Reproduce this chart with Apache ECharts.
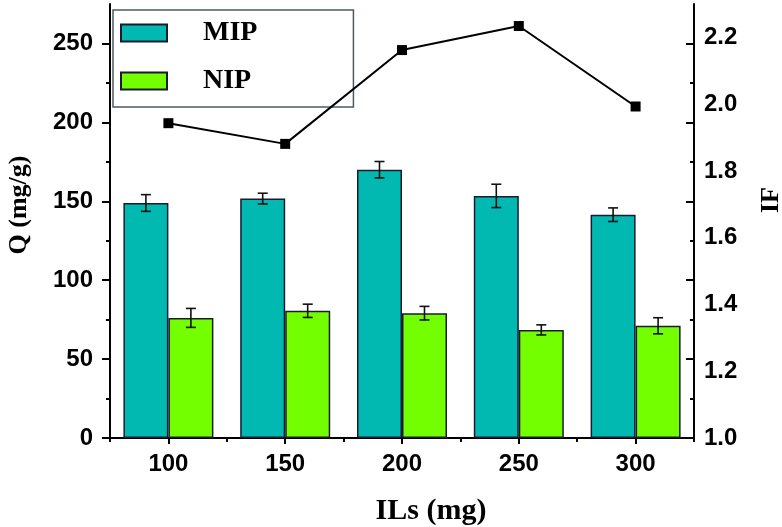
<!DOCTYPE html>
<html><head><meta charset="utf-8">
<script src="https://cdn.jsdelivr.net/npm/echarts@6/dist/echarts.min.js"></script>
<style>html,body{margin:0;padding:0;background:#fff}#c{width:782px;height:527px}</style>
</head><body><div id="c"></div>
<script>
const categories = ['100', '150', '200', '250', '300'];
const mipValues = [148.9, 151.7, 170.0, 153.4, 141.5];
const mipErrors = [5.3, 3.4, 5.2, 7.4, 4.3];
const nipValues = [76.1, 80.6, 79.1, 68.5, 71.1];
const nipErrors = [6.0, 4.2, 4.3, 3.2, 5.1];
const ifValues = [1.943, 1.881, 2.162, 2.234, 1.993];
const qTicks = [0, 50, 100, 150, 200, 250];
const qMinorTicks = [25, 75, 125, 175, 225];
const ifTicks = [1.0, 1.2, 1.4, 1.6, 1.8, 2.0, 2.2];

const LABEL_FONT = { fontFamily: '"Liberation Sans", Arial, sans-serif', fontWeight: 'bold', fontSize: 24, color: '#000' };
const SERIF = '"Liberation Serif", "Times New Roman", serif';
const BAR_W = 45;

function errRender(offset) {
  return function (params, api) {
    const i = api.value(0);
    const lo = api.coord([i, api.value(1)]);
    const hi = api.coord([i, api.value(2)]);
    const x = lo[0] + offset;
    const cap = 5;
    const style = { stroke: '#111', lineWidth: 1.6 };
    return {
      type: 'group', children: [
        { type: 'line', shape: { x1: x, y1: lo[1], x2: x, y2: hi[1] }, style: style },
        { type: 'line', shape: { x1: x - cap, y1: hi[1], x2: x + cap, y2: hi[1] }, style: style },
        { type: 'line', shape: { x1: x - cap, y1: lo[1], x2: x + cap, y2: lo[1] }, style: style }
      ]
    };
  };
}
const mipErr = categories.map((c, i) => [i, mipValues[i] - mipErrors[i], mipValues[i] + mipErrors[i]]);
const nipErr = categories.map((c, i) => [i, nipValues[i] - nipErrors[i], nipValues[i] + nipErrors[i]]);

const blackLine = { show: true, lineStyle: { color: '#000', width: 2 } };

const option = {
  animation: false,
  backgroundColor: '#fff',
  grid: { left: 110, right: 88, top: 4, bottom: 89 },
  legend: {
    data: ['MIP', 'NIP'], orient: 'vertical', left: 113, top: 10,
    itemWidth: 46, itemHeight: 17, itemGap: 20, icon: 'rect',
    padding: [9, 96, 12, 7], borderColor: '#4d5b61', borderWidth: 1.5,
    textStyle: { fontFamily: SERIF, fontWeight: 'bold', fontSize: 28, color: '#000', lineHeight: 17, padding: [0, 0, 0, 31] }
  },
  xAxis: [
    {
      type: 'category', data: categories, boundaryGap: true, position: 'bottom',
      axisLine: blackLine,
      axisTick: { show: true, alignWithLabel: true, length: 6, lineStyle: { color: '#000', width: 2 } },
      axisLabel: Object.assign({ margin: 14 }, LABEL_FONT),
      splitLine: { show: false }
    },
    {
      type: 'category', data: categories, boundaryGap: true, position: 'bottom',
      axisLine: { show: false },
      axisTick: { show: true, alignWithLabel: false, length: 4, lineStyle: { color: '#000', width: 2 } },
      axisLabel: { show: false }, splitLine: { show: false }
    },
    {
      type: 'category', data: categories, position: 'top',
      axisLine: blackLine, axisTick: { show: false }, axisLabel: { show: false }, splitLine: { show: false }
    }
  ],
  yAxis: [
    {
      type: 'value', min: 0, max: 275, position: 'left',
      axisLine: blackLine,
      axisTick: { show: true, customValues: qTicks, length: 8, lineStyle: { color: '#000', width: 2 } },
      axisLabel: Object.assign({ customValues: qTicks, margin: 17 }, LABEL_FONT),
      splitLine: { show: false }
    },
    {
      type: 'value', min: 1.0, max: 2.3, position: 'right',
      axisLine: blackLine,
      axisTick: { show: false },
      axisLabel: Object.assign({ customValues: ifTicks, margin: 10, formatter: v => v.toFixed(1) }, LABEL_FONT),
      splitLine: { show: false }
    },
    {
      type: 'value', min: 0, max: 275, position: 'right',
      axisLine: { show: false },
      axisTick: { show: true, inside: true, customValues: qTicks, length: 8, lineStyle: { color: '#000', width: 2 } },
      axisLabel: { show: false }, splitLine: { show: false }
    },
    {
      type: 'value', min: 0, max: 275, position: 'left',
      axisLine: { show: false },
      axisTick: { show: true, customValues: qMinorTicks, length: 4, lineStyle: { color: '#000', width: 2 } },
      axisLabel: { show: false }, splitLine: { show: false }
    },
    {
      type: 'value', min: 0, max: 275, position: 'right',
      axisLine: { show: false },
      axisTick: { show: true, inside: true, customValues: qMinorTicks, length: 4, lineStyle: { color: '#000', width: 2 } },
      axisLabel: { show: false }, splitLine: { show: false }
    }
  ],
  graphic: [
    { type: 'text', x: 19, y: 205, rotation: Math.PI / 2, style: { text: 'Q (mg/g)', font: 'bold 26px ' + SERIF, fill: '#000', align: 'center', verticalAlign: 'middle' } },
    { type: 'text', x: 771, y: 200, rotation: Math.PI / 2, style: { text: 'IF', font: 'bold 26px ' + SERIF, fill: '#000', align: 'center', verticalAlign: 'middle' } },
    { type: 'text', x: 431, y: 511, style: { text: 'ILs (mg)', font: 'bold 30px ' + SERIF, fill: '#000', align: 'center', verticalAlign: 'middle' } }
  ],
  series: [
    {
      name: 'MIP', type: 'bar', data: mipValues, barWidth: BAR_W, barGap: '0%',
      itemStyle: { color: '#02B9B1', borderColor: '#1a1a30', borderWidth: 1.5 }
    },
    {
      name: 'NIP', type: 'bar', data: nipValues, barWidth: BAR_W, barGap: '0%',
      itemStyle: { color: '#74FF00', borderColor: '#1a1a30', borderWidth: 1.5 }
    },
    { type: 'custom', renderItem: errRender(-BAR_W / 2), data: mipErr, encode: { x: 0, y: [1, 2] }, z: 5 },
    { type: 'custom', renderItem: errRender(BAR_W / 2), data: nipErr, encode: { x: 0, y: [1, 2] }, z: 5 },
    {
      name: 'IF', type: 'line', yAxisIndex: 1, data: ifValues, symbol: 'rect', symbolSize: 10,
      lineStyle: { color: '#000', width: 2 }, itemStyle: { color: '#000' }, z: 6
    }
  ]
};
const chart = echarts.init(document.getElementById('c'), null, { renderer: 'canvas' });
chart.setOption(option);
</script>
</body></html>
